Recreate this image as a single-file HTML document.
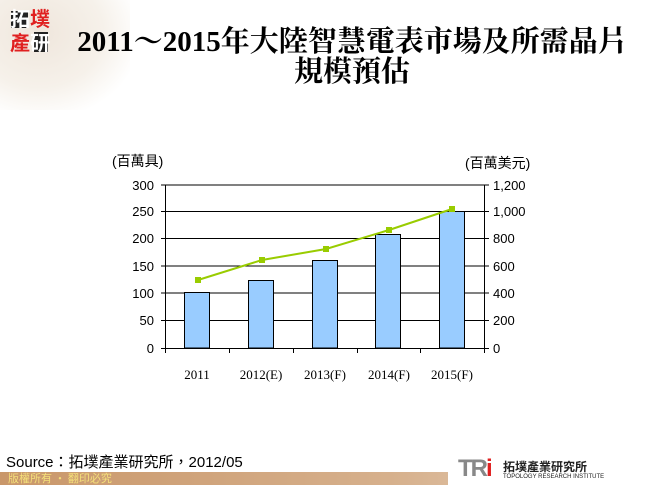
<!DOCTYPE html>
<html><head><meta charset="utf-8"><style>
body{margin:0;width:650px;height:485px;overflow:hidden;background:#fff;font-family:"Liberation Serif","Noto Serif CJK SC",serif;position:relative}
.t{position:absolute;left:52px;width:600px;text-align:center;font-weight:bold;font-size:29px;line-height:30px;color:#000;font-family:"Liberation Serif","Noto Serif CJK TC","Noto Serif CJK SC",serif;white-space:nowrap}
</style></head><body>
<div style="position:absolute;left:0;top:0;width:130px;height:110px;background:radial-gradient(ellipse at 30% 30%,#efe6dc 0%,#f6f1ea 50%,#fff 80%)"></div>
<div style="position:absolute;left:11px;top:11px;width:17px;height:17px;background:#222"></div>
<div style="position:absolute;left:34px;top:32px;width:14px;height:20px;background:#222"></div>
<div style="position:absolute;left:10px;top:6px;font:bold 20px 'Noto Sans CJK TC',sans-serif;color:#fff;line-height:24px">拓<span style="color:#e02020">墣</span><br><span style="color:#e02020">產</span><span style="color:#fff">研</span></div>
<div class="t" style="top:27px">2011～2015年大陸智慧電表市場及所需晶片</div>
<div class="t" style="top:57px">規模預估</div>
<svg width="650" height="485" style="position:absolute;left:0;top:0" font-family="Liberation Sans,DejaVu Sans,sans-serif">
<g stroke="#000" stroke-width="1">
<line x1="165" y1="185" x2="485" y2="185"/><line x1="165" y1="211.5" x2="485" y2="211.5"/><line x1="165" y1="238.5" x2="485" y2="238.5"/><line x1="165" y1="266" x2="485" y2="266"/><line x1="165" y1="293" x2="485" y2="293"/><line x1="165" y1="320.5" x2="485" y2="320.5"/>
</g>
<g fill="#99ccff" stroke="#000" stroke-width="1">
<rect x="184.5" y="292.5" width="25" height="55.5"/>
<rect x="248.5" y="280.5" width="25" height="67.5"/>
<rect x="312.5" y="260.5" width="25" height="87.5"/>
<rect x="375.5" y="234.5" width="25" height="113.5"/>
<rect x="439.5" y="211.5" width="25" height="136.5"/>
</g>
<g stroke="#000" stroke-width="1">
<line x1="165.5" y1="185" x2="165.5" y2="353"/><line x1="484.5" y1="185" x2="484.5" y2="353"/>
<line x1="165" y1="348.5" x2="485" y2="348.5"/>
<line x1="229.5" y1="348" x2="229.5" y2="353"/><line x1="293.5" y1="348" x2="293.5" y2="353"/><line x1="357.5" y1="348" x2="357.5" y2="353"/><line x1="420.5" y1="348" x2="420.5" y2="353"/>
<line x1="161" y1="185" x2="165" y2="185"/><line x1="161" y1="211.5" x2="165" y2="211.5"/><line x1="161" y1="238.5" x2="165" y2="238.5"/><line x1="161" y1="266" x2="165" y2="266"/><line x1="161" y1="293" x2="165" y2="293"/><line x1="161" y1="320.5" x2="165" y2="320.5"/><line x1="161" y1="348.5" x2="165" y2="348.5"/>
<line x1="485" y1="185" x2="489" y2="185"/><line x1="485" y1="211.5" x2="489" y2="211.5"/><line x1="485" y1="238.5" x2="489" y2="238.5"/><line x1="485" y1="266" x2="489" y2="266"/><line x1="485" y1="293" x2="489" y2="293"/><line x1="485" y1="320.5" x2="489" y2="320.5"/><line x1="485" y1="348.5" x2="489" y2="348.5"/>
</g>
<polyline points="198,280 262,260 326,249 389,230 452,209" fill="none" stroke="#99cc00" stroke-width="2"/>
<g fill="#99cc00"><rect x="195" y="277" width="6" height="6"/><rect x="259" y="257" width="6" height="6"/><rect x="323" y="246" width="6" height="6"/><rect x="386" y="227" width="6" height="6"/><rect x="449" y="206" width="6" height="6"/></g>
<g font-size="13" text-anchor="end" fill="#000">
<text x="154" y="190">300</text><text x="154" y="216">250</text><text x="154" y="243">200</text><text x="154" y="271">150</text><text x="154" y="298">100</text><text x="154" y="325">50</text><text x="154" y="353">0</text>
</g>
<g font-size="13" text-anchor="start" fill="#000">
<text x="493" y="190">1,200</text><text x="493" y="216">1,000</text><text x="493" y="243">800</text><text x="493" y="271">600</text><text x="493" y="298">400</text><text x="493" y="325">200</text><text x="493" y="353">0</text>
</g>
<g font-size="13" text-anchor="middle" font-family="Liberation Serif,serif" fill="#000">
<text x="197" y="379">2011</text><text x="261" y="379">2012(E)</text><text x="325" y="379">2013(F)</text><text x="389" y="379">2014(F)</text><text x="452" y="379">2015(F)</text>
</g>
<text x="112" y="166" font-size="14" font-family="Liberation Sans,Noto Sans CJK TC,sans-serif">(百萬具)</text>
<text x="465" y="168" font-size="14" font-family="Liberation Sans,Noto Sans CJK TC,sans-serif">(百萬美元)</text>
</svg>
<div style="position:absolute;left:0;top:472px;width:650px;height:13px;background:linear-gradient(90deg,#c9976a,#d6b08c 60%,#e8d4c0)"></div>
<div style="position:absolute;left:8px;top:470px;font:11px 'Noto Sans CJK TC',sans-serif;color:#f4e07a;line-height:16px">版權所有 • 翻印必究</div>
<div style="position:absolute;left:6px;top:451px;font:15px 'Liberation Sans','Noto Sans CJK TC',sans-serif;color:#000">Source：拓墣產業研究所，2012/05</div>
<div style="position:absolute;left:448px;top:450px;width:202px;height:35px;background:#fff;border-radius:10px 0 0 0"></div>
<div style="position:absolute;left:458px;top:455px;font:bold 24px 'Liberation Sans',sans-serif;color:#888;letter-spacing:-2px">TR<span style="color:#e02020">i</span></div>
<div style="position:absolute;left:503px;top:458px;font:bold 12px 'Noto Sans CJK TC',sans-serif;color:#222">拓墣產業研究所</div>
<div style="position:absolute;left:503px;top:474px;font:6px 'Liberation Sans',sans-serif;color:#222">TOPOLOGY RESEARCH INSTITUTE</div>
</body></html>
